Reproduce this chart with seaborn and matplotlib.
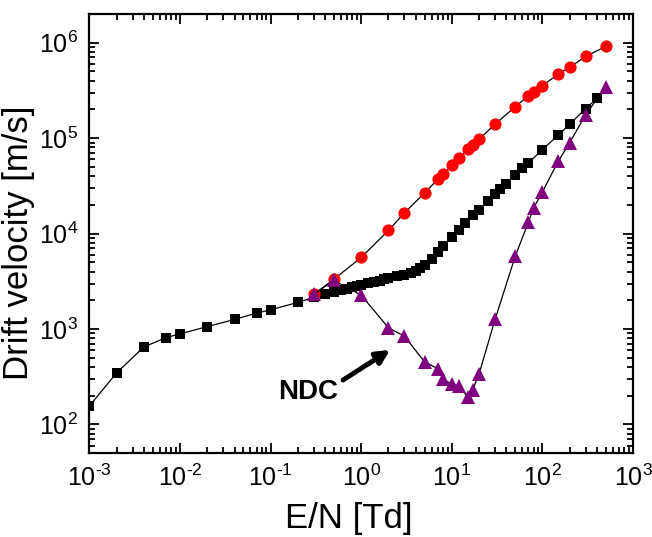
import numpy as np
import pandas as pd
import matplotlib
matplotlib.use('Agg')
import matplotlib.pyplot as plt
import seaborn as sns
from matplotlib.patches import FancyArrowPatch
from matplotlib.ticker import LogLocator, NullFormatter, FuncFormatter

# black squares
sq_x = [0.001, 0.002, 0.004, 0.007, 0.01, 0.02, 0.04, 0.07, 0.1, 0.2, 0.3,
        0.4, 0.5, 0.6, 0.7, 0.8, 0.9, 1.0, 1.2, 1.4, 1.6, 1.8, 2.0, 2.5, 3.0,
        3.5, 4.0, 4.5, 5, 6, 7, 8, 10, 12, 14, 17, 20, 25, 30, 34, 40, 50,
        60, 70, 100, 150, 200, 300, 400]
sq_y = [156, 347, 650, 812, 890, 1060, 1260, 1470, 1590, 1900, 2150,
        2310, 2450, 2560, 2650, 2740, 2820, 2900, 3020, 3130, 3220, 3310, 3400, 3560, 3700,
        3850, 4100, 4350, 4640, 5460, 6400, 7350, 9120, 11000, 12800, 15600, 17700, 21900, 25700, 29000, 33300, 40800,
        48300, 55000, 75900, 108000, 140000, 204000, 261000]

# red circles
ci_x = [0.3, 0.5, 1, 2, 3, 5, 7, 8, 10, 12, 15, 17, 20, 30, 50, 70, 80,
        100, 150, 200, 300, 500]
ci_y = [2310, 3330, 5620, 10800, 16500, 26700, 37000, 41800, 52000, 61700,
        76500, 85000, 97500, 140000, 213000, 277000, 307000, 355000, 471000,
        553000, 718000, 914000]

# purple triangles
tr_x = [0.3, 0.5, 1, 2, 3, 5, 7, 8, 10, 12, 15, 17, 20, 30, 50, 70, 80,
        100, 150, 200, 300, 500]
tr_y = [2310, 3240, 2260, 1030, 843, 452, 385, 297, 264, 253, 194, 231,
        341, 1260, 5770, 13200, 18600, 27400, 57700, 89800, 176000, 347000]

sns.set_style('ticks', {'axes.edgecolor': 'black', 'text.color': 'black',
                        'xtick.color': 'black', 'ytick.color': 'black',
                        'axes.labelcolor': 'black'})
plt.rcParams['font.family'] = ['Liberation Sans', 'DejaVu Sans']
plt.rcParams['mathtext.fontset'] = 'custom'
plt.rcParams['mathtext.rm'] = 'Liberation Sans'
plt.rcParams['mathtext.it'] = 'Liberation Sans:italic'
plt.rcParams['mathtext.bf'] = 'Liberation Sans:bold'

fig = plt.figure(figsize=(6.52, 5.37), dpi=100)
ax = fig.add_axes([0.137, 0.156, 0.834, 0.818])
ax.set_xscale('log')
ax.set_yscale('log')

series = [
    (sq_x, sq_y, 's', 'black', 7.5),
    (ci_x, ci_y, 'o', 'red', 8.8),
    (tr_x, tr_y, '^', 'purple', 9.8),
]
for xs, ys, mk, col, ms in series:
    df = pd.DataFrame({'x': xs, 'y': ys})
    sns.lineplot(data=df, x='x', y='y', ax=ax, sort=False, estimator=None,
                 color='black', linewidth=0.9, marker=mk, markersize=ms,
                 markerfacecolor=col, markeredgecolor=col, markeredgewidth=0)

ax.set_xlim(1e-3, 1e3)
ax.set_ylim(50, 2e6)


def dec_fmt(v, pos):
    e = int(round(np.log10(v)))
    if e < 0:
        return r'$10^{\text{-}%d}$' % (-e)
    return r'$10^{%d}$' % e


for axis in (ax.xaxis, ax.yaxis):
    axis.set_major_locator(LogLocator(base=10, numticks=20))
    axis.set_minor_locator(LogLocator(base=10, subs=np.arange(2, 10), numticks=20))
    axis.set_major_formatter(FuncFormatter(dec_fmt))
    axis.set_minor_formatter(NullFormatter())

ax.tick_params(which='both', direction='in', top=True, right=True, width=1.3)
ax.tick_params(which='major', length=7, labelsize=18, pad=8)
ax.tick_params(which='minor', length=4)
for s in ax.spines.values():
    s.set_linewidth(1.6)
    s.set_visible(True)

ax.set_xlabel('E/N [Td]', fontsize=25)
ax.set_ylabel('Drift velocity [m/s]', fontsize=25)
ax.xaxis.set_label_coords(0.478, -0.11)
ax.yaxis.set_label_coords(-0.1, 0.48)

ax.text(0.26, 219, 'NDC', fontsize=20, fontweight='bold', ha='center', va='center')
arrow = FancyArrowPatch((0.63, 292), (2.08, 605),
                        arrowstyle='-|>,head_length=0.8,head_width=0.4',
                        color='black', lw=3.5, shrinkA=0, shrinkB=0,
                        mutation_scale=10)
ax.add_patch(arrow)

fig.savefig('out.png', dpi=100)
